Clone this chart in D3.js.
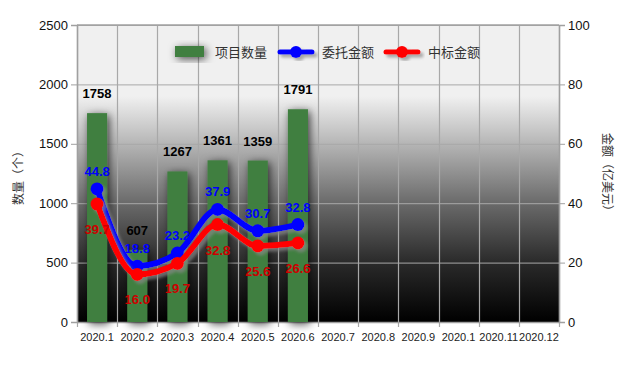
<!DOCTYPE html>
<html><head><meta charset="utf-8">
<script src="https://cdn.jsdelivr.net/npm/d3@7"></script>
<style>body{margin:0;background:#fff}svg{display:block;font-family:"Liberation Sans",Arial,"Noto Sans CJK SC",sans-serif}</style>
</head><body><svg id="c" width="639" height="366"></svg>
<script>
const categories = ["2020.1","2020.2","2020.3","2020.4","2020.5","2020.6","2020.7","2020.8","2020.9","2020.1 ","2020.11","2020.12"];
const projectCount = [1758, 607, 1267, 1361, 1359, 1791];
const entrustAmount = [44.8, 18.8, 23.2, 37.9, 30.7, 32.8];
const bidAmount = [39.7, 16.0, 19.7, 32.8, 25.6, 26.6];
const leftTicks = [0, 500, 1000, 1500, 2000, 2500];
const rightTicks = [0, 20, 40, 60, 80, 100];
const seriesNames = ["项目数量", "委托金额", "中标金额"];

const svg = d3.select("#c");
const m = {l:77, r:559, t:25, b:322};
const x = d3.scaleBand().domain(categories).range([m.l, m.r]);
const yL = d3.scaleLinear().domain([0, 2500]).range([m.b, m.t]);
const yR = d3.scaleLinear().domain([0, 100]).range([m.b, m.t]);

const defs = svg.append("defs");
const g = defs.append("linearGradient").attr("id","bg").attr("x1",0).attr("y1",0).attr("x2",0).attr("y2",1);
[[0,"#f0f0f0"],[0.24,"#f0f0f0"],[0.35,"#c8c8c8"],[0.6,"#6a6a6a"],[0.8,"#2a2a2a"],[1,"#000"]].forEach(s=>g.append("stop").attr("offset",s[0]).attr("stop-color",s[1]));
const f = defs.append("filter").attr("id","sh").attr("x","-50%").attr("y","-50%").attr("width","200%").attr("height","200%");
f.append("feDropShadow").attr("dx",2).attr("dy",2).attr("stdDeviation",4).attr("flood-color","#000").attr("flood-opacity",0.7);
const f2 = defs.append("filter").attr("id","lsh").attr("x","-20%").attr("y","-20%").attr("width","140%").attr("height","140%");
f2.append("feDropShadow").attr("dx",3).attr("dy",3).attr("stdDeviation",1.5).attr("flood-color","#888").attr("flood-opacity",0.7);

svg.append("rect").attr("x",m.l).attr("y",m.t).attr("width",m.r-m.l).attr("height",m.b-m.t).attr("fill","url(#bg)");

// grid
svg.append("g").selectAll("line").data(leftTicks).join("line")
  .attr("x1",m.l).attr("x2",m.r).attr("y1",d=>yL(d)+0.5).attr("y2",d=>yL(d)+0.5)
  .attr("stroke","#a8a8a8").attr("stroke-width",1);
const bounds = categories.map(c=>x(c)).concat([m.r]);
svg.append("g").selectAll("line").data(bounds).join("line")
  .attr("x1",d=>Math.round(d)+0.5).attr("x2",d=>Math.round(d)+0.5).attr("y1",m.t).attr("y2",m.b+5)
  .attr("stroke","#a8a8a8").attr("stroke-width",1.2);

// axes
const axL = svg.append("g").attr("transform",`translate(${m.l},0)`).call(d3.axisLeft(yL).tickValues(leftTicks).tickFormat(d3.format("d")).tickSize(6).tickPadding(3));
const axR = svg.append("g").attr("transform",`translate(${m.r},0)`).call(d3.axisRight(yR).tickValues(rightTicks).tickFormat(d3.format("d")).tickSize(6).tickPadding(3));
[axL,axR].forEach(a=>{a.select(".domain").attr("stroke","#a0a0a0").attr("stroke-width",1.5);a.selectAll(".tick line").attr("stroke","#a0a0a0");a.selectAll("text").attr("font-size",13).attr("fill","#111").attr("font-family","Liberation Sans, Arial");});
svg.append("g").selectAll("text").data(categories).join("text")
  .attr("x",d=>x(d)+x.bandwidth()/2).attr("y",341).attr("text-anchor","middle")
  .attr("font-size",11).attr("fill","#222").text(d=>d.trim());
svg.append("line").attr("x1",m.l).attr("x2",m.r).attr("y1",m.b+0.5).attr("y2",m.b+0.5).attr("stroke","#a0a0a0").attr("stroke-width",1.5);
svg.append("line").attr("x1",m.l).attr("x2",m.r).attr("y1",m.t).attr("y2",m.t).attr("stroke","#a0a0a0").attr("stroke-width",1.5);

// axis titles
svg.append("text").attr("transform","translate(23,175) rotate(-90)").attr("text-anchor","middle")
  .attr("font-size",12).attr("fill","#333").attr("font-family","Noto Sans CJK SC").text("数量（个）");
svg.append("text").attr("transform","translate(603,175) rotate(90)").attr("text-anchor","middle")
  .attr("font-size",12).attr("fill","#333").attr("font-family","Noto Sans CJK SC").text("金额（亿美元）");

// bars
const bw = x.bandwidth()*0.5;
svg.append("g").attr("filter","url(#sh)").selectAll("rect").data(projectCount).join("rect")
  .attr("x",(d,i)=>x(categories[i])+x.bandwidth()/2-bw/2).attr("width",bw)
  .attr("y",d=>yL(d)).attr("height",d=>m.b-yL(d)).attr("fill","#3f7f3f");
svg.append("g").selectAll("text").data(projectCount).join("text")
  .attr("x",(d,i)=>x(categories[i])+x.bandwidth()/2).attr("y",d=>yL(d)-15)
  .attr("text-anchor","middle").attr("font-size",13).attr("font-weight","bold").attr("fill","#000").text(d=>d);

function series(vals, color, labColor, dy){
  const cx = (d,i)=>x(categories[i])+x.bandwidth()/2;
  const line = d3.line().x(cx).y(d=>yR(d)).curve(d3.curveMonotoneX);
  const gg = svg.append("g").attr("filter","url(#lsh)");
  gg.append("path").attr("d",line(vals)).attr("fill","none").attr("stroke",color).attr("stroke-width",6).attr("stroke-linejoin","round");
  gg.selectAll("circle").data(vals).join("circle").attr("cx",cx).attr("cy",d=>yR(d)).attr("r",6.5).attr("fill",color);
  return ()=>svg.append("g").selectAll("text").data(vals).join("text")
    .attr("x",cx).attr("y",d=>yR(d)+dy).attr("text-anchor","middle").attr("font-size",13).attr("font-weight","bold")
    .attr("fill",labColor).text(d=>d.toFixed(1));
}
const lb = series(entrustAmount,"#0000ff","#0000ff",-13);
const lr = series(bidAmount,"#ff0000","#cc0000",30);
lb(); lr();

// legend
const lg = svg.append("g");
lg.append("rect").attr("x",175).attr("y",46).attr("width",29).attr("height",11).attr("fill","#3f7f3f").attr("filter","url(#sh)");
lg.append("text").attr("x",215).attr("y",57).attr("font-size",13).attr("fill","#333").attr("font-family","Noto Sans CJK SC").text(seriesNames[0]);
[[280,"#0000ff",seriesNames[1],322],[386,"#ff0000",seriesNames[2],428]].forEach(([lx,c,t,tx])=>{
  const q = lg.append("g").attr("filter","url(#lsh)");
  q.append("line").attr("x1",lx).attr("x2",lx+32).attr("y1",52).attr("y2",52).attr("stroke",c).attr("stroke-width",5).attr("stroke-linecap","round");
  q.append("circle").attr("cx",lx+16).attr("cy",52).attr("r",6).attr("fill",c);
  lg.append("text").attr("x",tx).attr("y",57).attr("font-size",13).attr("fill","#333").attr("font-family","Noto Sans CJK SC").text(t);
});
</script></body></html>
